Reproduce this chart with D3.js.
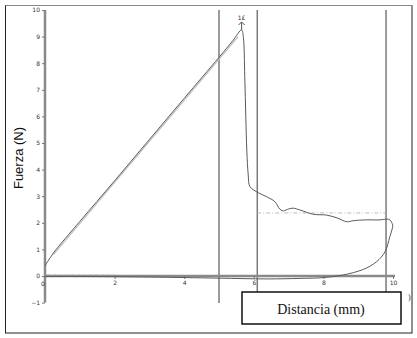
<!DOCTYPE html>
<html lang="es">
<head>
<meta charset="utf-8">
<script src="https://cdn.jsdelivr.net/npm/d3@7"></script>
<title>Fuerza vs Distancia</title>
<style>
  body { margin: 0; background: #fff; }
  svg { display: block; }
</style>
</head>
<body>
<script>
var w = 417;
var h = 338;

// force-distance curve (mm, N)
var curveX = [0, 0.24, 1.0, 2.0, 3.0, 4.0, 5.0, 5.4, 5.65, 5.70, 5.74, 5.77, 5.80, 5.84, 5.89,
              6.13, 6.37, 6.61, 6.75, 6.85, 7.0, 7.13, 7.33, 7.71, 8.09, 8.40, 8.67, 8.86, 9.24, 9.63, 9.82, 9.91, 9.99,
              9.99, 9.91, 9.77, 9.53, 9.15, 8.57, 8.00, 7.33, 6.37, 5.0, 3.0, 1.0, 0];
var curveY = [0.38, 0.86, 2.05, 3.58, 5.13, 6.68, 8.22, 8.85, 9.25, 8.97, 7.5, 6.0, 4.7, 3.8, 3.36,
              3.13, 2.98, 2.79, 2.51, 2.45, 2.52, 2.55, 2.48, 2.32, 2.29, 2.18, 2.04, 2.08, 2.11, 2.11, 2.14, 2.11, 1.92,
              1.85, 1.48, 0.91, 0.54, 0.25, 0.04, -0.06, -0.09, -0.11, -0.08, -0.04, -0.02, -0.02];

// light fit line along the loading ramp
var fitX = [0.24, 5.55];
var fitY = [0.8, 9.0];

// light baseline near zero
var baseX = [0.05, 2.0];
var baseY = [0.05, 0.05];

// average plateau level and the three cursor lines
var avgLevel = 2.37;
var avgFrom = 6.1, avgTo = 9.8;
var cursors = [5.0, 6.1, 9.8];

var xTicks = [2, 4, 6, 8, 10];
var yTicks = [10, 9, 8, 7, 6, 5, 4, 3, 2, 1, 0, -1];

var peakLabel = "1\u00a3";

var xScale = d3.scaleLinear().domain([0, 10]).range([45, 393]);
var yScale = d3.scaleLinear().domain([-1, 10]).range([302.6, 10]);

var svg = d3.select("body").append("svg")
    .attr("width", w)
    .attr("height", h);

// outer frame
svg.append("rect")
    .attr("x", 5.5).attr("y", 5.5)
    .attr("width", 406.5).attr("height", 327.5)
    .attr("fill", "none")
    .attr("stroke", "#222");
svg.append("line")
    .attr("x1", 5.5).attr("x2", 412).attr("y1", 5.5).attr("y2", 5.5)
    .attr("stroke", "#888");

// cursor lines
svg.selectAll("line.cursor")
    .data(cursors)
    .enter()
    .append("line")
    .attr("class", "cursor")
    .attr("x1", function(d){ return xScale(d); })
    .attr("x2", function(d){ return xScale(d); })
    .attr("y1", 10)
    .attr("y2", 303)
    .attr("stroke", "#7a7a7a")
    .attr("stroke-width", 1.5);

// axes
var xAxis = d3.axisBottom(xScale).tickValues(xTicks).tickSize(3).tickPadding(2);
var yAxis = d3.axisLeft(yScale).tickValues(yTicks).tickSize(3).tickPadding(2);

var gx = svg.append("g").attr("transform", "translate(0," + yScale(0) + ")").call(xAxis);
var gy = svg.append("g").attr("transform", "translate(" + xScale(0) + ",0)").call(yAxis);

gx.select(".domain").attr("d", "M" + xScale(0) + ",0H" + (xScale(10) + 2));
gy.select(".domain").attr("d", "M0," + yScale(10) + "V" + yScale(-1));

[gx, gy].forEach(function(g){
    g.select(".domain").attr("stroke", "#8a8a8a").attr("stroke-width", 2.5);
    g.selectAll(".tick line").attr("stroke", "#777");
    g.selectAll(".tick text")
        .attr("font-family", "'DejaVu Sans', sans-serif")
        .attr("font-size", "6px")
        .attr("fill", "#333");
});

svg.append("text")
    .attr("x", xScale(0) - 2)
    .attr("y", yScale(0) + 10)
    .attr("text-anchor", "middle")
    .attr("font-family", "'DejaVu Sans', sans-serif")
    .attr("font-size", "6px")
    .attr("fill", "#333")
    .text("0");

var line = d3.line()
    .x(function(d){ return xScale(d[0]); })
    .y(function(d){ return yScale(d[1]); });

// baseline and fit line (light)
svg.append("path")
    .datum(d3.zip(baseX, baseY))
    .attr("d", line)
    .attr("fill", "none")
    .attr("stroke", "#c8c8c8")
    .attr("stroke-dasharray", "4,2");

svg.append("path")
    .datum(d3.zip(fitX, fitY))
    .attr("d", line)
    .attr("fill", "none")
    .attr("stroke", "#bdbdbd")
    .attr("stroke-width", 1.2);

// average level
svg.append("line")
    .attr("x1", xScale(avgFrom)).attr("x2", xScale(avgTo))
    .attr("y1", yScale(avgLevel)).attr("y2", yScale(avgLevel))
    .attr("stroke", "#bbb")
    .attr("stroke-dasharray", "4,2,1,2");

// main curve
svg.append("path")
    .datum(d3.zip(curveX, curveY))
    .attr("d", line.curve(d3.curveCatmullRom.alpha(0.5)))
    .attr("fill", "none")
    .attr("stroke", "#5a5a5a")
    .attr("stroke-width", 1);

// peak marker
var px = xScale(5.65), py = yScale(9.25);
svg.append("path")
    .attr("d", "M" + px + "," + py + "V" + (py - 8) + "M" + (px - 3) + "," + (py - 5) + "L" + px + "," + (py - 8) + "L" + (px + 3) + "," + (py - 5))
    .attr("fill", "none")
    .attr("stroke", "#555");
svg.append("text")
    .attr("x", px)
    .attr("y", py - 10)
    .attr("text-anchor", "middle")
    .attr("font-family", "'DejaVu Sans', sans-serif")
    .attr("font-size", "6px")
    .attr("fill", "#333")
    .text(peakLabel);

// y axis title
svg.append("text")
    .attr("transform", "translate(23,158) rotate(-90)")
    .attr("text-anchor", "middle")
    .attr("font-family", "'Liberation Sans', Arial, sans-serif")
    .attr("font-size", "13px")
    .attr("fill", "#111")
    .text("Fuerza (N)");

// x axis title box
svg.append("rect")
    .attr("x", 242).attr("y", 292)
    .attr("width", 159).attr("height", 32)
    .attr("fill", "#fff")
    .attr("stroke", "#111")
    .attr("stroke-width", 1.5);
svg.append("text")
    .attr("x", 321)
    .attr("y", 313.5)
    .attr("text-anchor", "middle")
    .attr("font-family", "'Liberation Serif', 'Times New Roman', serif")
    .attr("font-size", "14px")
    .attr("fill", "#111")
    .text("Distancia (mm)");
svg.append("text")
    .attr("x", 408)
    .attr("y", 300)
    .attr("font-family", "'Liberation Serif', serif")
    .attr("font-size", "8px")
    .attr("fill", "#333")
    .text(")");
</script>
</body>
</html>
